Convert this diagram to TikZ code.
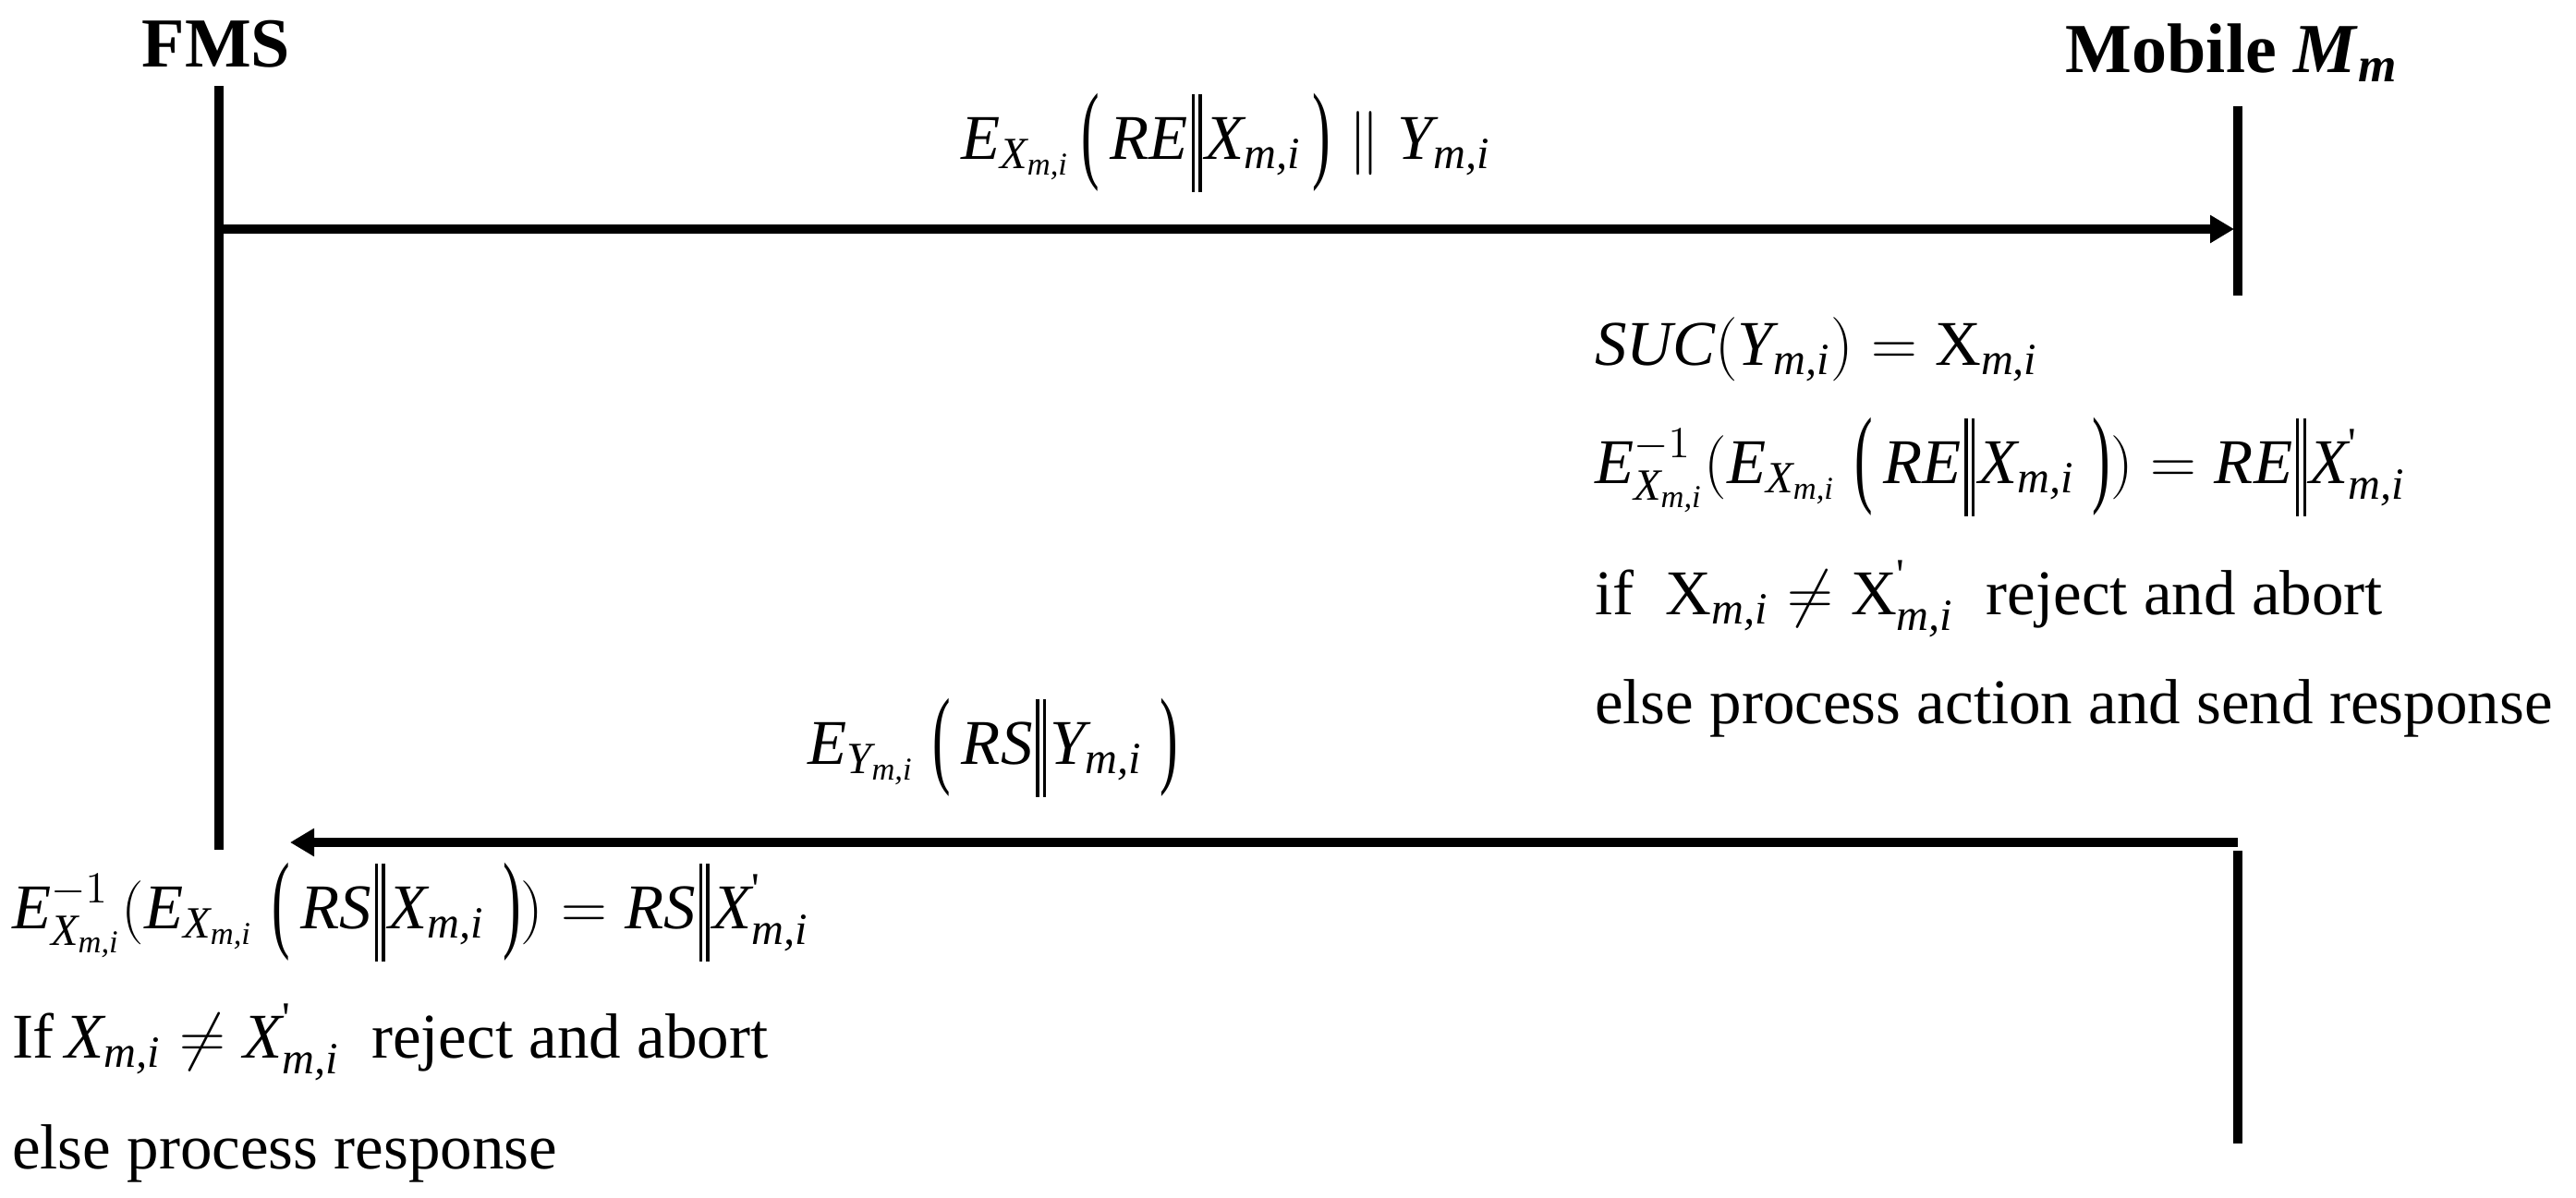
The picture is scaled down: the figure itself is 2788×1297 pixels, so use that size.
\documentclass[tikz,border=0pt]{standalone}
\usepackage{amsmath}
\usepackage{graphicx}
\usepackage{fontspec}
\setmainfont{Liberation Serif}
\usetikzlibrary{arrows.meta}
\newcommand{\ti}[1]{\textit{#1}}
\newcommand{\mi}{\ti{m,i}}
\newcommand{\Xmi}{\ti{X}_{\mi}}
\newcommand{\Ymi}{\ti{Y}_{\mi}}
\newcommand{\myprime}{\textup{\textquotesingle}}
\newcommand{\Xpmi}{\ti{X}^{\myprime}_{\mi}}
\newcommand{\UXmi}{\textup{X}_{\mi}}
\newcommand{\UXpmi}{\textup{X}^{\myprime}_{\mi}}
\newcommand{\tallpar}[1]{\vcenter{\hbox{\scalebox{0.85}[1.7]{#1}}}}
\newcommand{\bo}{\mathopen{\tallpar{(}}}
\newcommand{\bc}{\mathclose{\tallpar{)}}}
\newcommand{\dbar}{\mathord{\mkern1mu\vcenter{\hbox{\rule{0.8pt}{26.5pt}\hspace{1.1pt}\rule{0.8pt}{26.5pt}}}\mkern1mu}}
\tikzset{
  txt/.style={inner sep=0pt, outer sep=0pt, anchor=base west, font=\fontsize{17.25}{20}\selectfont},
  msglbl/.style={inner sep=0pt, outer sep=0pt, anchor=base, font=\fontsize{17.25}{20}\selectfont},
  actor/.style={inner sep=0pt, outer sep=0pt, anchor=base, font=\bfseries\fontsize{19}{22}\selectfont},
  life/.style={line width=2.4pt},
  msg/.style={line width=2.4pt, -{Triangle[length=6.5pt,width=7.2pt]}}
}
\begin{document}
\begin{tikzpicture}[x=0.25pt,y=-0.25pt]
\useasboundingbox (0,0) rectangle (2788,1297);
% actors
\node[actor] (fms) at (234,72) {FMS};
\node[actor] (mob) at (2416,78) {Mobile \textit{M}$_{\textbf{\textit{m}}}$};
% lifeline coordinates
\coordinate (fmsTop) at (237,93);
\coordinate (fmsBot) at (237,920);
\coordinate (mobTop) at (2422,115);
\coordinate (mobMid) at (2422,320);
\coordinate (mobTwoTop) at (2422,921);
\coordinate (mobTwoBot) at (2422,1238);
\coordinate (aOneS) at (237,248);
\coordinate (aOneE) at (2418,248);
\coordinate (aTwoS) at (2422,912);
\coordinate (aTwoE) at (314,912);
\draw[life] (fmsTop) -- (fmsBot);
\draw[life] (mobTop) -- (mobMid);
\draw[life] (mobTwoTop) -- (mobTwoBot);
\draw[msg] (aOneS) -- (aOneE);
\draw[msg] (aTwoS) -- (aTwoE);
% message labels
\node[msglbl] (mOne) at (1327,172) {$\ti{E}_{\Xmi}\,\bo\,\ti{RE}\dbar\Xmi\,\bc\parallel\Ymi$};
\node[msglbl] (mTwo) at (1075,827) {$\ti{E}_{\Ymi}\;\bo\,\ti{RS}\dbar\Ymi\;\bc$};
% mobile processing
\node[txt] (rOne) at (1726,395) {$\ti{SUC}(\Ymi) = \UXmi$};
\node[txt] (rTwo) at (1726,523) {$\ti{E}^{-1}_{\Xmi}(\ti{E}_{\Xmi}\;\bo\,\ti{RE}\dbar\Xmi\;\bc) = \ti{RE}\dbar\Xpmi$};
\node[txt] (rThree) at (1726,665) {if \ $\UXmi \neq \UXpmi$ \ reject and abort};
\node[txt] (rFour) at (1726,783) {else process action and send response};
% FMS processing
\node[txt] (lOne) at (13,1005) {$\ti{E}^{-1}_{\Xmi}(\ti{E}_{\Xmi}\;\bo\,\ti{RS}\dbar\Xmi\;\bc) = \ti{RS}\dbar\Xpmi$};
\node[txt] (lTwo) at (13,1145) {If$\,\Xmi \neq \Xpmi$ \ reject and abort};
\node[txt] (lThree) at (13,1265) {else process response};
\end{tikzpicture}
\end{document}
